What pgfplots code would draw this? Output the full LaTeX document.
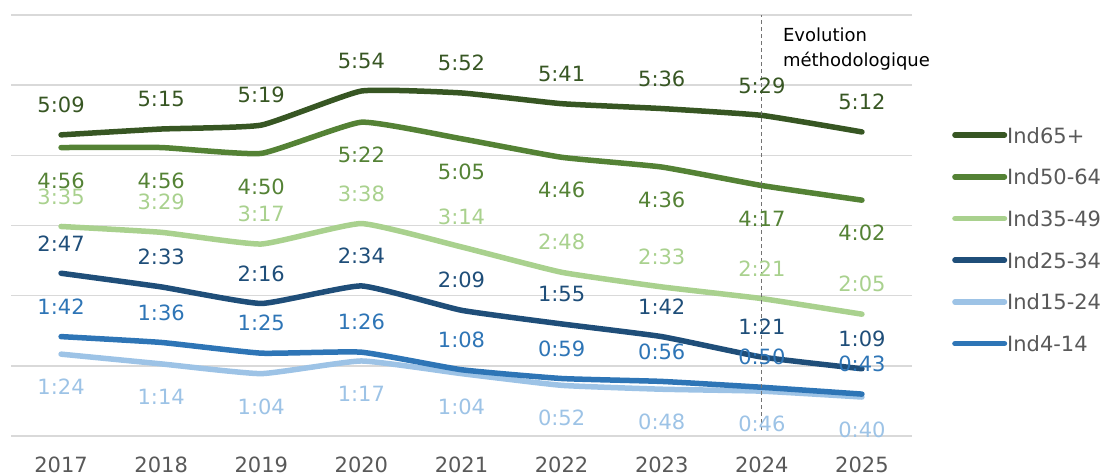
\documentclass[border=0pt]{standalone}
\usepackage{pgfplots}
\pgfplotsset{compat=1.18}
\usepackage{fontspec}
\setmainfont{DejaVu Sans}
\definecolor{cA}{HTML}{375623}
\definecolor{cB}{HTML}{548235}
\definecolor{cC}{HTML}{A9D18E}
\definecolor{cD}{HTML}{1F4E79}
\definecolor{cE}{HTML}{9DC3E6}
\definecolor{cF}{HTML}{2E75B6}
\definecolor{txt}{HTML}{595959}
\definecolor{grd}{HTML}{D9D9D9}
\newcommand{\lbl}{\fontsize{21}{24}\selectfont}
\pgfplotsset{
  ser/.style n args={3}{#1, line width=5.5pt, smooth, tension=0.25, line cap=round, line join=round,
    nodes near coords, point meta=explicit symbolic,
    every node near coord/.append style={anchor=center, yshift=#2, text=#3, font=\lbl, inner sep=0pt}},
}
\begin{document}
\begin{tikzpicture}[x=1pt,y=1pt]
\useasboundingbox (0,0) rectangle (1113,474);
\begin{axis}[
  at={(11pt,38pt)}, anchor=south west,
  scale only axis, width=901pt, height=421pt,
  xmin=-0.5, xmax=8.5, ymin=0, ymax=432,
  clip=false,
  axis line style={draw=none},
  major tick length=0pt,
  xtick={0,1,2,3,4,5,6,7,8},
  xticklabels={2017,2018,2019,2020,2021,2022,2023,2024,2025},
  xticklabel style={font=\lbl, text=txt, anchor=center, yshift=-29pt},
  ytick={0,72,144,216,288,360,432}, yticklabels={},
  ymajorgrids, grid style={grd, line width=1.5pt},
  legend style={at={(1.0444,0.467)}, anchor=west, draw=none, fill=none, inner sep=0pt,
    font=\lbl, text=txt, row sep=25.7pt, legend cell align=left,
    nodes={inner sep=0pt, text height=16pt, text depth=0pt}},
  legend image code/.code={\draw[#1, line width=5.5pt, line cap=round] (2.75pt,0pt) -- (52.25pt,0pt);},
]
\addplot[ser={cA}{30pt}{cA}] coordinates {(0,309)[5:09] (1,315)[5:15] (2,319)[5:19] (3,354)[5:54] (4,352)[5:52] (5,341)[5:41] (6,336)[5:36] (7,329)[5:29] (8,312)[5:12]};
\addplot[ser={cB}{-33pt}{cB}] coordinates {(0,296)[4:56] (1,296)[4:56] (2,290)[4:50] (3,322)[5:22] (4,305)[5:05] (5,286)[4:46] (6,276)[4:36] (7,257)[4:17] (8,242)[4:02]};
\addplot[ser={cC}{30pt}{cC}] coordinates {(0,215)[3:35] (1,209)[3:29] (2,197)[3:17] (3,218)[3:38] (4,194)[3:14] (5,168)[2:48] (6,153)[2:33] (7,141)[2:21] (8,125)[2:05]};
\addplot[ser={cD}{30pt}{cD}] coordinates {(0,167)[2:47] (1,153)[2:33] (2,136)[2:16] (3,154)[2:34] (4,129)[2:09] (5,115)[1:55] (6,102)[1:42] (7,81)[1:21] (8,69)[1:09]};
\addplot[ser={cE}{-33pt}{cE}] coordinates {(0,84)[1:24] (1,74)[1:14] (2,64)[1:04] (3,77)[1:17] (4,64)[1:04] (5,52)[0:52] (6,48)[0:48] (7,46)[0:46] (8,40)[0:40]};
\addplot[ser={cF}{30pt}{cF}] coordinates {(0,102)[1:42] (1,96)[1:36] (2,85)[1:25] (3,86)[1:26] (4,68)[1:08] (5,59)[0:59] (6,56)[0:56] (7,50)[0:50] (8,43)[0:43]};
\addplot[forget plot, color=black!55, dash pattern=on 4pt off 3pt, line width=1.2pt] coordinates {(7,6) (7,432)};
\node[anchor=west, align=left, font=\fontsize{18}{25}\selectfont, inner sep=0pt, text=black] at (axis cs:7.21,397) {Evolution\\méthodologique};
\legend{Ind65+,Ind50-64,Ind35-49,Ind25-34,Ind15-24,Ind4-14}
\end{axis}
\end{tikzpicture}
\end{document}
